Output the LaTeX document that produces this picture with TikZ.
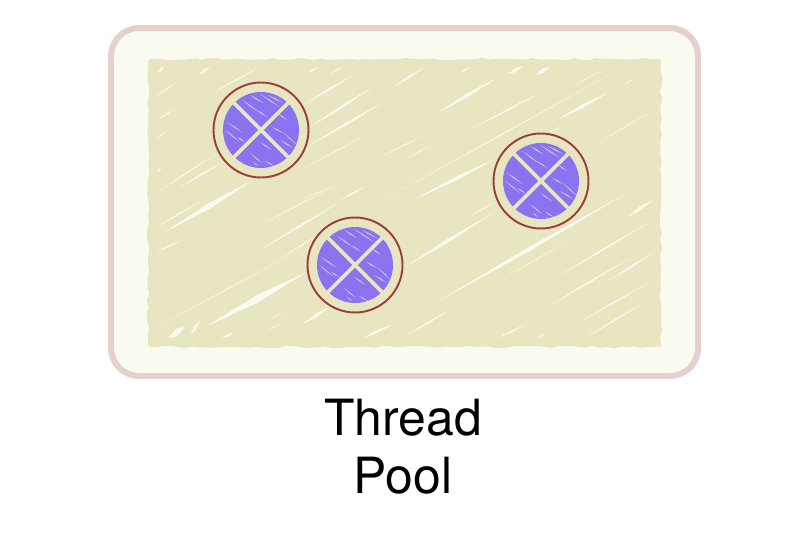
\documentclass[tikz,border=0pt]{standalone}
\usepackage{fontspec}
\setmainfont{TeX Gyre Heros}
\usetikzlibrary{decorations.pathmorphing}
\definecolor{poolborder}{HTML}{E5D0CE}
\definecolor{poolfill}{HTML}{F9FAF0}
\definecolor{poolarea}{HTML}{E8E6C1}
\definecolor{threadring}{HTML}{9C3F3B}
\definecolor{threadfill}{HTML}{8B72EE}
\definecolor{threadstreak}{HTML}{CFC6F6}
\tikzset{
  poolbox/.style={draw=poolborder,fill=poolfill,line width=3.4pt,rounded corners=16pt},
  poolscribble/.style={fill=poolarea,draw=poolarea,line width=2.2pt,line join=round,decorate,decoration={random steps,segment length=4pt,amplitude=0.7pt}},
  poolstreak/.style={fill=poolfill},
  threadcircle/.style={draw=threadring,fill=poolarea,line width=1.1pt},
  threadcross/.style={draw=poolarea,line width=2.2pt},
  threadmark/.style={fill=threadstreak},
  caption/.style={anchor=base,font=\fontsize{28.4}{33}\selectfont}
}
\begin{document}
\begin{tikzpicture}[x=0.02cm,y=-0.02cm]
\pgfmathsetseed{7}
\useasboundingbox (0,0) rectangle (785,544);
\draw[poolbox] (111,28) rectangle (698,376);
\fill[poolscribble] (150,61) rectangle (659,345);
\foreach \xa/\ya/\xb/\yb/\w in {
  156/96/176/83/1, 212/93/260/67/0.8, 198/75/210/67/1.5, 158/72/164/67/2,
  157/120/173/110/0.8, 156/138/168/131/0.6, 156/172/162/168/0.8, 157/192/218/153/0.8,
  178/188/223/162/1, 165/232/253/180/3, 156/227/200/202/0.8, 156/252/182/240/0.8,
  260/225/333/187/0.6, 260/250/340/202/1.2, 277/260/327/230/0.6,
  157/327/300/250/0.4, 207/326/307/272/4, 168/338/185/327/4, 190/335/200/321/2.5,
  222/338/233/333/1.5, 302/324/330/307/2, 363/338/392/325/1.5, 270/320/283/312/0.5, 268/330/283/323/0.5,
  307/73/318/67/1, 328/75/343/67/0.5, 303/105/355/74/1.2, 310/127/373/87/1.5, 310/145/382/103/1.5,
  300/170/372/132/0.4, 393/87/425/67/1.2, 380/157/423/136/0.6, 407/158/433/144/0.5,
  437/113/497/78/2, 460/73/470/67/1, 508/74/523/66/2, 535/75/550/67/2.5, 473/128/542/92/1,
  557/120/607/93/2, 383/200/622/68/0.5, 572/87/607/67/0.4, 623/85/635/78/0.5, 600/142/648/113/0.6,
  417/198/497/158/2, 300/200/333/186/0.5, 340/200/365/187/1, 547/133/563/126/0.6,
  405/267/493/213/2, 468/217/495/202/0.7, 417/197/435/190/0.5, 437/302/627/193/2.2,
  500/280/567/242/0.4, 555/278/653/220/1, 547/307/632/257/1, 610/280/653/253/1.3, 627/217/653/200/2,
  578/323/650/282/0.8, 585/338/645/302/0.8, 407/335/450/310/1, 498/338/525/325/1, 537/338/545/333/0.8}
  \fill[poolstreak] (\xa,\ya) -- ({(\xa+\xb)/2},{(\ya+\yb)/2+\w}) -- (\xb,\yb) -- ({(\xa+\xb)/2},{(\ya+\yb)/2-\w}) -- cycle;
\foreach \cx/\cy in {261/130,355/265,541/181}{
  \begin{scope}[shift={(\cx,\cy)}]
    \draw[threadcircle] (0,0) circle (47.5);
    \fill[threadfill] (0,0) circle (38);
    \foreach \xa/\ya/\xb/\yb in {
      -11/-35/2/-27, -1/-36/19/-23, 7/-35/22/-27, -19/-30/-1/-17, -4/-20/6/-13,
      -34/-8/-18/3, -36/0/-21/12, -24/7/-16/12, 11/-3/22/3, 22/2/36/15, 19/10/32/18,
      -1/12/11/20, -11/23/1/33, 4/31/13/36, -8/32/-3/36, 16/-17/26/-10}
      \fill[threadmark] (\xa,\ya) -- ({(\xa+\xb)/2},{(\ya+\yb)/2+0.7}) -- (\xb,\yb) -- ({(\xa+\xb)/2},{(\ya+\yb)/2-0.7}) -- cycle;
    \draw[threadcross] (-30,-30) -- (30,30);
    \draw[threadcross] (-30,30) -- (30,-30);
  \end{scope}
}
\node[caption] (threadlabel) at (403,435) {Thread};
\node[caption] (poollabel) at (403,493) {Pool};
\end{tikzpicture}
\end{document}
